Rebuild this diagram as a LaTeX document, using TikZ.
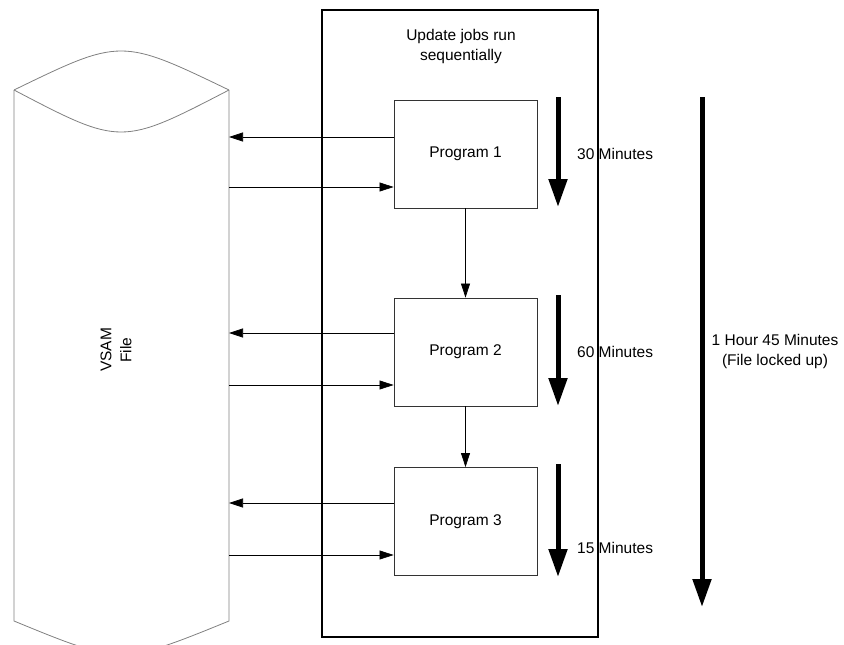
\documentclass[tikz,border=0pt]{standalone}
\usepackage{fontspec}
\setmainfont{Liberation Sans}
\usetikzlibrary{arrows.meta}
\begin{document}
\begin{tikzpicture}[x=1pt,y=-1pt,
  progbox/.style={draw=black!80,line width=0.8pt,minimum width=143pt,minimum height=108pt,inner sep=0pt,font=\fontsize{15.5}{19}\selectfont},
  thin/.style={draw=black,line width=0.7pt,-{Triangle[length=14pt,width=9pt]}},
  thick/.style={draw=black,line width=5pt,-{Triangle[length=28pt,width=18pt]}},
  lbl/.style={font=\fontsize{15.5}{20}\selectfont,inner sep=0pt,align=center},
  cyl/.style={draw=black!50,line width=0.8pt}]
\useasboundingbox (0,0) rectangle (844,645);
% cylinder
\draw[cyl] (14,90) .. controls (121,38) .. (229,90);
\draw[cyl] (14,90) .. controls (121,146) .. (229,90);
\draw[cyl] (14,90) -- (14,621) .. controls (121,665) .. (229,621) -- (229,90);
\node[lbl,rotate=90] (vsam) at (116,350) {VSAM\\File};
% outer box
\node[draw=black,line width=2.5pt,outer sep=0pt,minimum width=276pt,minimum height=627pt,inner sep=0pt] (outer) at (460,323.5) {};
\node[lbl] (title) at (461,46) {Update jobs run\\sequentially};
% programs
\node[progbox] (p1) at (465.5,154) {Program 1};
\node[progbox] (p2) at (465.5,352) {Program 2};
\node[progbox] (p3) at (465.5,521.5) {Program 3};
% cylinder side coordinates
\coordinate (a1) at (229,137);
\coordinate (b1) at (229,187);
\coordinate (a2) at (229,333);
\coordinate (b2) at (229,385);
\coordinate (a3) at (229,503);
\coordinate (b3) at (229,555);
\draw[thin] (p1.west |- a1) -- (a1);
\draw[thin] (b1) -- (p1.west |- b1);
\draw[thin] (p2.west |- a2) -- (a2);
\draw[thin] (b2) -- (p2.west |- b2);
\draw[thin] (p3.west |- a3) -- (a3);
\draw[thin] (b3) -- (p3.west |- b3);
\draw[thin] (p1.south) -- (p2.north);
\draw[thin] (p2.south) -- (p3.north);
% thick duration arrows
\coordinate (t1s) at (558,97);  \coordinate (t1e) at (558,207);
\coordinate (t2s) at (558,295); \coordinate (t2e) at (558,406);
\coordinate (t3s) at (558,464); \coordinate (t3e) at (558,577);
\draw[thick] (t1s) -- (t1e);
\draw[thick] (t2s) -- (t2e);
\draw[thick] (t3s) -- (t3e);
\node[lbl,anchor=west] (m1) at (577,154) {30 Minutes};
\node[lbl,anchor=west] (m2) at (577,352) {60 Minutes};
\node[lbl,anchor=west] (m3) at (577,548) {15 Minutes};
% redraw outer box right edge over labels
\draw[black,line width=2.5pt] (outer.north east) -- (outer.south east);
% big arrow
\coordinate (ts) at (702,97); \coordinate (te) at (702,607);
\draw[thick] (ts) -- (te);
\node[lbl] (total) at (775,351) {1 Hour 45 Minutes\\(File locked up)};
\end{tikzpicture}
\end{document}
